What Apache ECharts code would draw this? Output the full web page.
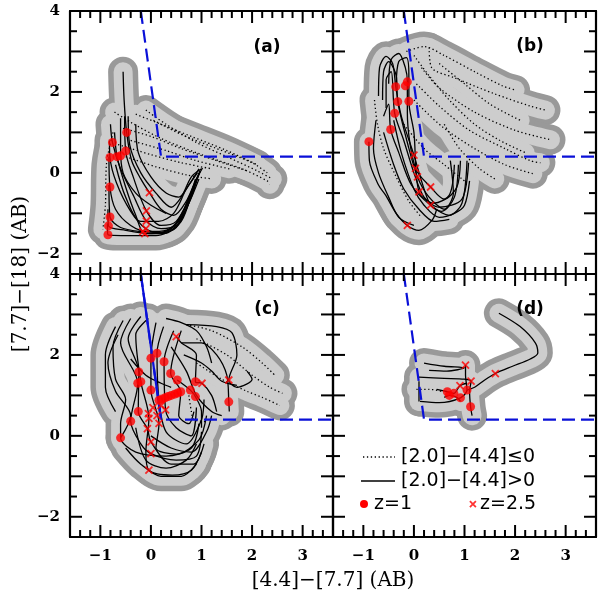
<!DOCTYPE html>
<html>
<head>
<meta charset="utf-8">
<script src="https://cdn.jsdelivr.net/npm/echarts@6/dist/echarts.min.js"></script>
<style>
  html, body { margin: 0; padding: 0; background: #fff; }
  #chart { width: 600px; height: 606px; }
</style>
</head>
<body>
<div id="chart"></div>
<script>
// axis ranges, shared by all four panels
const xMin = -1.6, xMax = 3.6, yMin = -2.5, yMax = 4;
const xMajor = [-1, 0, 1, 2, 3];
const xMinor = [-1.4, -1.2, -0.8, -0.6, -0.4, -0.2, 0.2, 0.4, 0.6, 0.8, 1.2, 1.4, 1.6, 1.8, 2.2, 2.4, 2.6, 2.8, 3.2, 3.4];
const yMajor = [-2, -1, 0, 1, 2, 3];
const yMinor = [-1.5, -0.5, 0.5, 1.5, 2.5, 3.5];

// colour-cut wedge
const wedge = [[-0.2, 4.0], [0.2, 0.4], [3.6, 0.4]];

// panel (a) tracks
const aSolid = [
  [[-0.55,2.5],[-0.53,1.8],[-0.48,1.0],[-0.38,0.3],[-0.2,-0.15],[-0.03,-0.49],[0.2,-0.9],[0.45,-1.05],[0.7,-0.7],[0.88,-0.2],[1.02,0.12]],
  [[-0.52,1.4],[-0.5,0.54],[-0.35,-0.1],[-0.09,-0.94],[0.2,-1.3],[0.5,-1.2],[0.78,-0.55],[0.98,0.05]],
  [[-0.8,1.2],[-0.76,0.75],[-0.6,0.1],[-0.35,-0.55],[-0.09,-1.19],[0.2,-1.38],[0.55,-1.25],[0.83,-0.45],[0.95,0.0]],
  [[-0.82,0.8],[-0.81,0.38],[-0.68,-0.25],[-0.4,-0.95],[-0.1,-1.38],[0.2,-1.48],[0.5,-1.35],[0.8,-0.6],[0.92,-0.1]],
  [[-0.72,1.0],[-0.67,0.4],[-0.5,-0.35],[-0.3,-1.05],[-0.12,-1.5],[0.25,-1.5],[0.6,-1.2],[0.85,-0.35],[0.97,0.05]],
  [[-0.83,0.4],[-0.81,-0.35],[-0.7,-0.9],[-0.4,-1.3],[-0.05,-1.45],[0.3,-1.42],[0.65,-1.0],[0.82,-0.4],[0.88,-0.15]],
  [[-0.83,-0.3],[-0.81,-1.09],[-0.6,-1.35],[-0.2,-1.45],[0.2,-1.47],[0.55,-1.2],[0.75,-0.6],[0.9,-0.2]],
  [[-0.85,-0.9],[-0.84,-1.31],[-0.5,-1.42],[0,-1.5],[0.4,-1.38],[0.68,-0.85],[0.85,-0.3]],
  [[-0.86,-1.25],[-0.85,-1.53],[-0.4,-1.55],[0.1,-1.55],[0.5,-1.32],[0.75,-0.75],[0.95,-0.15]],
  [[-0.45,1.4],[-0.42,0.7],[-0.2,0.0],[0.1,-0.5],[0.4,-0.85],[0.6,-0.6],[0.8,-0.1],[1.0,0.1]],
  [[-0.6,1.35],[-0.6,0.6],[-0.55,0.0],[-0.3,-0.5],[0.0,-0.8],[0.3,-1.0]],
  [[-0.3,1.2],[-0.25,0.5],[0.0,-0.1],[0.3,-0.5],[0.55,-0.6],[0.75,-0.3],[0.95,0.1]],
  [[-0.7,0.2],[-0.5,-0.6],[-0.2,-1.2],[0.15,-1.2],[0.45,-1.0],[0.7,-0.4],[0.92,0.0]]
];
const aDotted = [
  [[-0.72,1.5],[-0.4,1.25],[0.2,0.85],[1.0,0.45],[1.8,0.1],[2.3,-0.2],[2.35,-0.28]],
  [[-0.1,1.55],[0.3,1.2],[0.9,0.75],[1.5,0.4],[2.1,0.05],[2.4,-0.15]],
  [[-0.55,1.1],[0.0,0.9],[0.6,0.6],[1.3,0.3],[1.9,0.05]],
  [[-0.4,0.8],[0.3,0.55],[0.9,0.3],[1.55,0.1]],
  [[-0.5,0.4],[0.1,0.15],[0.7,-0.05],[1.2,-0.15]],
  [[-0.75,1.0],[-0.88,0.2],[-0.9,-0.8],[-0.95,-1.4]],
  [[0.05,1.3],[0.6,0.95],[1.3,0.6],[2.0,0.25],[2.3,0.0]],
  [[-0.3,1.45],[0.2,1.2],[0.8,0.9],[1.5,0.55],[2.1,0.2]],
  [[-0.65,0.7],[0,0.45],[0.6,0.25],[1.2,0.1]]
];
const aCirc = [[-0.48,1.0],[-0.76,0.75],[-0.5,0.54],[-0.81,0.38],[-0.67,0.4],[-0.6,0.42],[-0.81,-0.35],[-0.81,-1.09],[-0.84,-1.31],[-0.85,-1.53]];
const aCross = [[-0.03,-0.49],[-0.09,-0.94],[-0.09,-1.19],[-0.1,-1.38],[-0.12,-1.5],[-0.16,-1.45]];

// panel (b) tracks
const bSolid = [
  [[-0.7,1.9],[-0.68,2.6],[-0.55,2.88],[-0.42,2.7],[-0.36,2.13],[-0.25,1.4],[0.0,0.44],[0.15,-0.2],[0.33,-0.8],[0.55,-0.95],[0.8,-0.6],[0.88,0.2]],
  [[-0.5,2.2],[-0.45,2.8],[-0.3,2.95],[-0.17,2.6],[-0.13,2.25],[-0.13,1.5],[0.03,0.11],[0.33,-0.35],[0.6,-0.65],[0.85,-0.35],[0.92,0.3]],
  [[-0.62,1.8],[-0.6,2.5],[-0.5,2.75],[-0.35,2.4],[-0.32,1.76],[-0.12,0.7],[0.07,-0.1],[0.3,-0.6],[0.6,-0.9],[0.78,-0.5],[0.72,0.3]],
  [[-0.35,2.2],[-0.3,2.75],[-0.15,2.85],[-0.1,2.4],[-0.1,1.77],[0.0,1.0],[0.1,-0.47],[0.4,-0.75],[0.7,-0.55],[0.8,0.2]],
  [[-0.55,1.6],[-0.55,2.3],[-0.45,2.5],[-0.38,1.47],[-0.2,0.8],[0.0,0.0],[0.2,-0.6],[0.5,-0.85],[0.95,-0.65],[1.08,0.25]],
  [[-0.6,1.4],[-0.5,1.7],[-0.46,1.07],[-0.3,0.5],[-0.05,-0.3],[0.33,-0.8],[0.7,-1.05],[0.95,-0.75],[1.05,0.3]],
  [[-0.89,0.77],[-0.88,0.3],[-0.7,-0.3],[-0.56,-0.55],[-0.35,-1.0],[-0.13,-1.3],[0.1,-1.42],[0.36,-1.17],[0.45,-0.9]],
  [[-0.4,1.3],[-0.25,0.5],[0.0,-0.4],[0.2,-0.8],[0.5,-1.1],[0.8,-1.0],[1.0,-0.8],[1.1,-0.2]],
  [[-0.6,1.0],[-0.4,0.2],[-0.2,-0.4],[0.1,-0.9],[0.4,-1.2],[0.7,-1.15]],
  [[-0.75,1.3],[-0.8,0.6],[-0.7,0.0],[-0.5,-0.6],[-0.3,-1.1],[0.0,-1.3]]
];
const bDotted = [
  [[-0.15,3.0],[0.2,3.12],[0.6,2.9],[1.2,2.5],[1.75,2.15],[2.0,2.05]],
  [[0.3,3.1],[0.35,2.6],[0.8,2.35],[1.6,1.95],[2.3,1.65],[2.6,1.55]],
  [[0.15,2.6],[0.5,2.1],[1.2,1.5],[2.0,1.05],[2.7,0.82]],
  [[0.05,2.2],[0.5,1.65],[1.1,1.05],[1.8,0.6],[2.3,0.3],[2.5,0.25]],
  [[0.0,1.8],[0.55,1.15],[1.2,0.6],[1.8,0.2],[2.35,-0.02]],
  [[0.6,1.2],[0.9,0.6],[1.3,0.1],[1.6,-0.15]],
  [[-0.78,1.8],[-0.72,1.2],[-0.6,0.6],[-0.35,-0.1],[-0.1,-0.7],[0.15,-1.1]],
  [[0.5,2.7],[1.0,2.2],[1.5,1.7],[2.1,1.3]],
  [[0.0,2.9],[0.3,2.4],[0.7,1.8],[1.2,1.2],[1.7,0.8],[2.2,0.5]],
  [[-0.2,1.2],[0.2,0.6],[0.6,0.2],[1.0,-0.2]]
];
const bCirc = [[-0.36,2.13],[-0.13,2.25],[-0.17,2.15],[-0.32,1.76],[-0.1,1.77],[-0.38,1.47],[-0.46,1.07],[-0.89,0.77]];
const bCross = [[0,0.44],[0.03,0.11],[0.07,-0.1],[0.33,-0.35],[0.1,-0.47],[0.33,-0.8],[-0.13,-1.3]];

// panel (c) tracks
const cSolid = [
  [[-0.55,2.85],[-0.75,2.2],[-0.7,1.4],[-0.5,0.9],[-0.6,0.3],[-0.6,-0.05],[-0.3,-0.4],[0.3,-0.5],[0.8,-0.3],[0.95,0.3]],
  [[-0.4,2.9],[-0.6,2.3],[-0.26,1.3],[-0.4,0.36],[-0.2,-0.2],[0.0,-0.44],[0.5,-0.6],[0.9,-0.5],[1.0,0.1]],
  [[-0.2,2.95],[-0.45,2.4],[-0.24,1.58],[-0.25,0.6],[-0.07,0.18],[0.0,-0.15],[0.4,-0.7],[0.85,-0.7],[1.05,-0.2]],
  [[-0.05,2.9],[-0.3,2.5],[-0.2,1.34],[-0.04,0.43],[-0.1,-0.4],[-0.04,-0.85],[0.42,-0.97],[0.8,-0.85],[1.0,-0.4]],
  [[0.1,2.8],[0.0,1.92],[0.0,1.13],[0.16,0.31],[0.1,-0.3],[0.5,-0.45],[0.95,-0.1],[1.1,0.5]],
  [[0.25,2.7],[0.12,2.04],[0.16,0.88],[0.3,0.1],[0.7,-0.2],[1.0,0.4],[1.05,0.9]],
  [[0.45,2.6],[0.26,1.83],[0.29,0.64],[0.5,0.2],[0.8,0.0],[0.9,0.7]],
  [[0.6,2.6],[0.39,1.54],[0.59,1.09],[0.55,0.5],[0.75,0.3],[0.85,0.6]],
  [[0.5,2.45],[0.6,2.3],[0.9,2.0],[0.88,1.34],[1.01,1.3],[1.2,1.0],[1.3,0.6]],
  [[0.7,2.75],[1.3,2.7],[1.6,2.55],[1.7,2.0],[1.54,1.38],[1.7,1.2],[2.0,1.4],[1.9,1.6]],
  [[0.6,2.3],[1.0,2.3],[1.3,2.0],[1.5,1.5],[1.54,0.84],[1.55,0.6]],
  [[0.52,1.38],[0.78,1.13],[0.88,0.97],[1.0,0.6],[1.0,0.2]],
  [[0.65,2.0],[1.0,1.8],[1.2,1.6],[1.4,1.35],[1.7,1.25]],
  [[-0.65,2.5],[-0.85,1.8],[-0.7,1.1],[-0.4,0.5],[-0.6,-0.05]],
  [[-0.3,0.2],[-0.1,-0.6],[0.3,-0.8],[0.7,-0.6],[0.9,-0.2]],
  [[-0.7,2.7],[-0.9,2.0],[-0.9,1.2],[-0.7,0.6]],
  [[0.3,2.9],[0.6,2.8],[0.9,2.6],[1.1,2.2],[1.2,1.8]],
  [[0.0,0.0],[0.4,-0.3],[0.8,-0.4],[1.1,0.1],[1.2,0.5]],
  [[-0.5,-0.3],[-0.2,-0.7],[0.2,-1.0],[0.6,-1.0],[0.9,-0.7]],
  [[0.4,2.2],[0.7,1.6],[0.9,1.0],[1.2,0.6],[1.4,0.5]],
  [[-0.4,1.9],[-0.1,1.5],[0.2,1.3],[0.4,1.2]]
];
const cDotted = [
  [[0.7,2.75],[1.2,2.6],[1.8,2.2],[2.2,1.8],[2.45,1.5]],
  [[0.9,2.4],[1.5,2.0],[2.0,1.5],[2.35,1.2],[2.6,1.05]],
  [[0.9,1.8],[1.4,1.4],[1.9,1.1],[2.2,0.95],[2.55,0.75]],
  [[0.75,1.0],[0.8,0.6],[0.85,0.4],[1.1,0.35]]
];
const cCirc = [[0.12,2.04],[0,1.92],[0.26,1.83],[0.39,1.54],[-0.24,1.58],[-0.2,1.34],[-0.26,1.3],[0,1.13],
  [0.52,1.38],[0.88,1.34],[0.78,1.13],[0.88,0.97],[1.54,0.84],[-0.25,0.6],[-0.4,0.36],[-0.6,-0.05],
  [0.16,0.88],[0.22,0.91],[0.28,0.94],[0.34,0.97],[0.4,1.0],[0.47,1.03],[0.53,1.06],[0.59,1.09]];
const cCross = [[0.5,2.45],[1.54,1.38],[1.01,1.3],[-0.04,0.43],[0.16,0.31],[-0.07,0.18],[0,-0.15],[0,-0.44],
  [-0.04,-0.85],[0.29,0.64],[0.04,0.7],[0.2,0.75],[-0.05,0.55],[0.12,0.5]];

// panel (d) tracks
const dSolid = [
  [[1.68,3.03],[2.1,2.7],[2.4,2.3],[2.45,2.05],[2.3,1.9],[1.95,1.72],[1.61,1.54],[1.4,1.38],[1.2,1.2],[1.05,1.13]],
  [[0.2,1.8],[0.6,1.72],[1.0,1.68],[0.65,1.6],[0.3,1.62]],
  [[0.1,1.45],[0.6,1.42],[1.0,1.4],[1.13,1.35],[1.1,1.1],[1.12,0.72],[1.15,0.5]],
  [[0.12,0.85],[0.5,0.82],[0.92,0.94],[1.05,1.13],[1.02,1.5],[1.02,1.75]],
  [[0.1,1.35],[0.1,0.85]],
  [[0.45,1.15],[0.66,1.09],[0.79,1.05],[0.91,1.24],[1.05,1.3]],
  [[0.6,0.95],[0.7,1.0],[0.85,0.95],[0.92,0.85]]
];
const dDotted = [[[0.05,1.15],[0.3,1.15],[0.55,1.1]]];
const dCirc = [[0.66,1.09],[0.79,1.05],[0.92,0.94],[1.05,1.13],[1.12,0.72],[0.7,1.0]];
const dCross = [[1.61,1.54],[1.02,1.75],[1.13,1.35],[0.91,1.24]];

const panels = [
  {solid: aSolid, dotted: aDotted, circ: aCirc, cross: aCross, label: '(a)'},
  {solid: bSolid, dotted: bDotted, circ: bCirc, cross: bCross, label: '(b)'},
  {solid: cSolid, dotted: cDotted, circ: cCirc, cross: cCross, label: '(c)'},
  {solid: dSolid, dotted: dDotted, circ: dCirc, cross: dCross, label: '(d)'}
];

const gridPos = [[70, 11], [333, 11], [70, 274], [333, 274]];
const SIZE = 263;
const tickFont = 'DejaVu Serif';
const crossPath = 'path://M0,0L10,10M10,0L0,10';

function fmt(n) { return n < 0 ? '\u2212' + (-n) : String(n); }

let grids = [], xAxes = [], yAxes = [], series = [];

gridPos.forEach((p, i) => {
  grids.push({left: p[0], top: p[1], width: SIZE, height: SIZE, show: false});
  const line = {show: true, onZero: false, lineStyle: {color: '#000', width: 2.2}};
  ['bottom', 'top'].forEach(pos => {
    xAxes.push({
      type: 'value', gridIndex: i, position: pos, min: xMin, max: xMax, interval: 0.2,
      axisLine: line, axisTick: {show: false}, splitLine: {show: false},
      axisLabel: {
        show: pos === 'bottom' && i >= 2, margin: 12, color: '#000',
        fontFamily: tickFont, fontWeight: 'bold', fontSize: 15,
        formatter: v => Math.abs(v - Math.round(v)) < 1e-6 ? fmt(Math.round(v)) : ''
      }
    });
  });
  ['left', 'right'].forEach(pos => {
    yAxes.push({
      type: 'value', gridIndex: i, position: pos, min: yMin, max: yMax, interval: 0.5,
      axisLine: line, axisTick: {show: false}, splitLine: {show: false},
      axisLabel: {
        show: pos === 'left' && i % 2 === 0, margin: 10, color: '#000',
        fontFamily: tickFont, fontWeight: 'bold', fontSize: 15,
        formatter: v => Math.abs(v / 2 - Math.round(v / 2)) < 1e-6 ? fmt(Math.round(v)) : ''
      }
    });
  });
});

function lineSeries(gi, data, z, style) {
  return {
    type: 'line', xAxisIndex: 2 * gi, yAxisIndex: 2 * gi, data: data, z: z,
    symbol: 'none', silent: true, smooth: 0.3, animation: false, lineStyle: style
  };
}

panels.forEach((pn, gi) => {
  const all = pn.solid.concat(pn.dotted);
  all.forEach(tr => series.push(lineSeries(gi, tr, 1, {color: '#999999', width: 30, cap: 'round', join: 'round'})));
  all.forEach(tr => series.push(lineSeries(gi, tr, 2, {color: '#cdcdcd', width: 19, cap: 'round', join: 'round'})));
  pn.dotted.forEach(tr => series.push(lineSeries(gi, tr, 3, {color: '#000', width: 1.3, type: [1.3, 2.6]})));
  pn.solid.forEach(tr => series.push(lineSeries(gi, tr, 3, {color: '#000', width: 1.3})));

  series.push({
    type: 'line', xAxisIndex: 2 * gi, yAxisIndex: 2 * gi, data: wedge, z: 5, symbol: 'none',
    silent: true, animation: false, lineStyle: {color: '#0a10d8', width: 2.2, type: [13, 6]}
  });
  if (gi === 2) {
    series.push({
      type: 'line', xAxisIndex: 4, yAxisIndex: 4, data: wedge.slice(0, 2), z: 5, symbol: 'none',
      silent: true, animation: false, lineStyle: {color: '#0a10d8', width: 2.2}
    });
  }
  series.push({
    type: 'scatter', xAxisIndex: 2 * gi, yAxisIndex: 2 * gi, data: pn.circ, z: 6,
    symbol: 'circle', symbolSize: 9, silent: true, animation: false,
    itemStyle: {color: '#ff0000'}
  });
  series.push({
    type: 'scatter', xAxisIndex: 2 * gi, yAxisIndex: 2 * gi, data: pn.cross, z: 6,
    symbol: crossPath, symbolSize: 7, silent: true, animation: false,
    itemStyle: {color: 'rgba(0,0,0,0)', borderColor: '#ff0000', borderWidth: 1.8}
  });
});

// the z=2.5 legend mark is a scatter point placed in panel (d) data space
series.push({
  type: 'scatter', xAxisIndex: 6, yAxisIndex: 6, z: 20, silent: true, animation: false,
  data: [[(474 - 415) / 50.6, (435.7 - 504) / 40.46]],
  symbol: crossPath, symbolSize: 6,
  itemStyle: {color: 'rgba(0,0,0,0)', borderColor: '#ff0000', borderWidth: 1.8}
});

const labelPos = [[267, 48], [530, 47], [267, 310], [530, 310]];
let graphics = panels.map((pn, i) => ({
  type: 'text', x: labelPos[i][0], y: labelPos[i][1], z: 20,
  style: {text: pn.label, font: 'bold 17px "DejaVu Sans"', fill: '#000', align: 'center', verticalAlign: 'middle'}
}));

graphics.push(
  {type: 'text', x: 333, y: 581, z: 20,
   style: {text: '[4.4]\u2212[7.7] (AB)', font: '20px "DejaVu Serif"', fill: '#000', align: 'center', verticalAlign: 'middle'}},
  {type: 'text', x: 21, y: 274, rotation: Math.PI / 2, z: 20,
   style: {text: '[7.7]\u2212[18] (AB)', font: '20px "DejaVu Serif"', fill: '#000', align: 'center', verticalAlign: 'middle'}},
  // legend in panel (d)
  {type: 'line', z: 20, shape: {x1: 363, y1: 457, x2: 395, y2: 457}, style: {stroke: '#000', lineWidth: 1.3, lineDash: [1.3, 2.6]}},
  {type: 'text', x: 401, y: 457, z: 20, style: {text: '[2.0]\u2212[4.4]\u22640', font: '19px "DejaVu Sans"', fill: '#000', verticalAlign: 'middle'}},
  {type: 'line', z: 20, shape: {x1: 361, y1: 481, x2: 395, y2: 481}, style: {stroke: '#000', lineWidth: 1.5}},
  {type: 'text', x: 401, y: 481, z: 20, style: {text: '[2.0]\u2212[4.4]>0', font: '19px "DejaVu Sans"', fill: '#000', verticalAlign: 'middle'}},
  {type: 'circle', z: 20, shape: {cx: 364, cy: 504, r: 4}, style: {fill: '#ff0000'}},
  {type: 'text', x: 374, y: 504, z: 20, style: {text: 'z=1', font: '19px "DejaVu Sans"', fill: '#000', verticalAlign: 'middle'}},
  {type: 'text', x: 480, y: 504, z: 20, style: {text: 'z=2.5', font: '19px "DejaVu Sans"', fill: '#000', verticalAlign: 'middle'}}
);

const chart = echarts.init(document.getElementById('chart'));
chart.setOption({
  animation: false,
  backgroundColor: '#fff',
  grid: grids,
  xAxis: xAxes,
  yAxis: yAxes,
  series: series,
  graphic: graphics
});

// inward ticks on all four sides of every panel, placed through the grid's own scale
const tickStyle = {stroke: '#000', lineWidth: 2};
function tickLine(x1, y1, x2, y2) {
  return {type: 'line', z: 30, silent: true, shape: {x1: x1, y1: y1, x2: x2, y2: y2}, style: tickStyle};
}
gridPos.forEach((p, gi) => {
  const toPx = (x, y) => chart.convertToPixel({gridIndex: gi}, [x, y]);
  [[xMajor, 12], [xMinor, 7]].forEach(([vals, len]) => vals.forEach(v => {
    const b = toPx(v, yMin), t = toPx(v, yMax);
    graphics.push(tickLine(b[0], b[1], b[0], b[1] - len), tickLine(t[0], t[1], t[0], t[1] + len));
  }));
  [[yMajor, 12], [yMinor, 7]].forEach(([vals, len]) => vals.forEach(v => {
    const l = toPx(xMin, v), r = toPx(xMax, v);
    graphics.push(tickLine(l[0], l[1], l[0] + len, l[1]), tickLine(r[0], r[1], r[0] - len, r[1]));
  }));
});
chart.setOption({graphic: graphics});
</script>
</body>
</html>
